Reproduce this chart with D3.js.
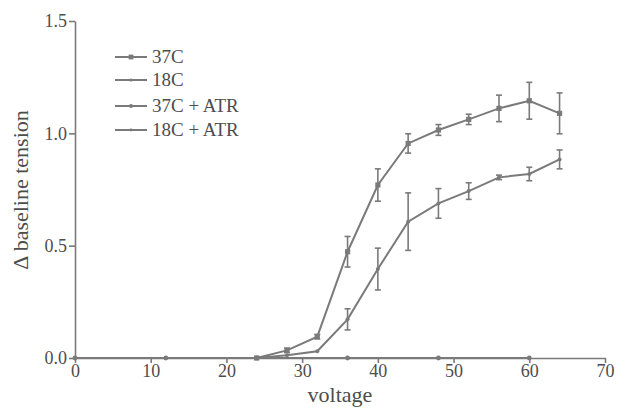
<!DOCTYPE html>
<html>
<head>
<meta charset="utf-8">
<script src="https://cdn.jsdelivr.net/npm/d3@7"></script>
<style>
  html, body { margin: 0; padding: 0; background: #fff; }
  svg text { font-family: "Liberation Serif", "DejaVu Serif", serif; fill: #4d4d4d; }
</style>
</head>
<body>
<svg id="chart" width="617" height="409"></svg>
<script>
// Tension change vs. stimulation voltage
const voltages = [24, 28, 32, 36, 40, 44, 48, 52, 56, 60, 64];
const t37 = [0.0, 0.034, 0.095, 0.473, 0.770, 0.955, 1.015, 1.062, 1.111, 1.145, 1.089];
const e37 = [0.0, 0.010, 0.010, 0.068, 0.072, 0.043, 0.024, 0.023, 0.059, 0.082, 0.091];
const t18 = [0.0, 0.012, 0.030, 0.172, 0.396, 0.607, 0.688, 0.743, 0.804, 0.819, 0.884];
const e18 = [0.0, 0.0, 0.0, 0.047, 0.093, 0.128, 0.066, 0.037, 0.010, 0.030, 0.042];
const atrVoltages = [0, 12, 24, 36, 48, 60];
const t37atr = [0, 0, 0, 0, 0, 0];
const t18atr = [0, 0, 0, 0, 0, 0];
const seriesNames = ["37C", "18C", "37C + ATR", "18C + ATR"];
const xTicks = [0, 10, 20, 30, 40, 50, 60, 70];
const yTicks = [0.0, 0.5, 1.0, 1.5];

const svg = d3.select("#chart");
const stroke = "#7a7a7a";

const x = d3.scaleLinear().domain([0, 70]).range([75, 605]);
const y = d3.scaleLinear().domain([0, 1.5]).range([358, 21]);

// axes
const xAxis = svg.append("g").attr("transform", `translate(0,${y(0)})`)
  .call(d3.axisBottom(x).tickValues(xTicks).tickFormat(d3.format("d")).tickSize(5).tickPadding(1).tickSizeOuter(0));
const yAxis = svg.append("g").attr("transform", `translate(${x(0)},0)`)
  .call(d3.axisLeft(y).tickValues(yTicks).tickFormat(d3.format(".1f")).tickSize(6).tickPadding(2).tickSizeOuter(0));
[xAxis, yAxis].forEach(a => {
  a.selectAll("path, line").attr("stroke", stroke).attr("stroke-width", 1.6);
  a.selectAll("text").style("font-size", "18px").attr("fill", "#4d4d4d");
});

// axis titles
svg.append("text").attr("x", 340).attr("y", 402).attr("text-anchor", "middle")
  .style("font-size", "22px").text("voltage");
svg.append("text").attr("transform", "translate(28,190) rotate(-90)").attr("text-anchor", "middle")
  .style("font-size", "22px").text("Δ baseline tension");

const line = d3.line().x(d => x(d[0])).y(d => y(d[1]));

function drawSeries(xs, vals, errs, marker, r) {
  const pts = xs.map((v, i) => [v, vals[i], errs ? errs[i] : 0]);
  svg.append("path").datum(pts).attr("d", line)
    .attr("fill", "none").attr("stroke", stroke).attr("stroke-width", 2);
  if (errs) {
    const g = svg.append("g").attr("stroke", stroke).attr("stroke-width", 1.6);
    pts.filter(p => p[2] > 0.005).forEach(p => {
      const cx = x(p[0]), y1 = y(p[1] + p[2]), y2 = y(p[1] - p[2]);
      g.append("line").attr("x1", cx).attr("x2", cx).attr("y1", y1).attr("y2", y2);
      g.append("line").attr("x1", cx - 3).attr("x2", cx + 3).attr("y1", y1).attr("y2", y1);
      g.append("line").attr("x1", cx - 3).attr("x2", cx + 3).attr("y1", y2).attr("y2", y2);
    });
  }
  const m = svg.append("g").attr("fill", stroke);
  pts.forEach(p => {
    if (marker === "square") {
      m.append("rect").attr("x", x(p[0]) - r).attr("y", y(p[1]) - r).attr("width", 2 * r).attr("height", 2 * r);
    } else {
      m.append("circle").attr("cx", x(p[0])).attr("cy", y(p[1])).attr("r", r);
    }
  });
}

drawSeries(atrVoltages, t18atr, null, "circle", 1.6);
drawSeries(atrVoltages, t37atr, null, "circle", 2.4);
drawSeries(voltages, t18, e18, "circle", 2);
drawSeries(voltages, t37, e37, "square", 2.6);

// legend
const legendRows = [57, 80, 106, 130];
const legendMarkers = [["square", 2.4], ["circle", 1.6], ["circle", 2], ["circle", 1.4]];
seriesNames.forEach((name, i) => {
  const ly = legendRows[i];
  svg.append("line").attr("x1", 115).attr("x2", 147).attr("y1", ly).attr("y2", ly)
    .attr("stroke", stroke).attr("stroke-width", 2);
  const [mk, r] = legendMarkers[i];
  if (mk === "square") {
    svg.append("rect").attr("x", 131 - r).attr("y", ly - r).attr("width", 2 * r).attr("height", 2 * r).attr("fill", stroke);
  } else {
    svg.append("circle").attr("cx", 131).attr("cy", ly).attr("r", r).attr("fill", stroke);
  }
  svg.append("text").attr("x", 152).attr("y", ly + 6).style("font-size", "19px").text(name);
});
</script>
</body>
</html>
